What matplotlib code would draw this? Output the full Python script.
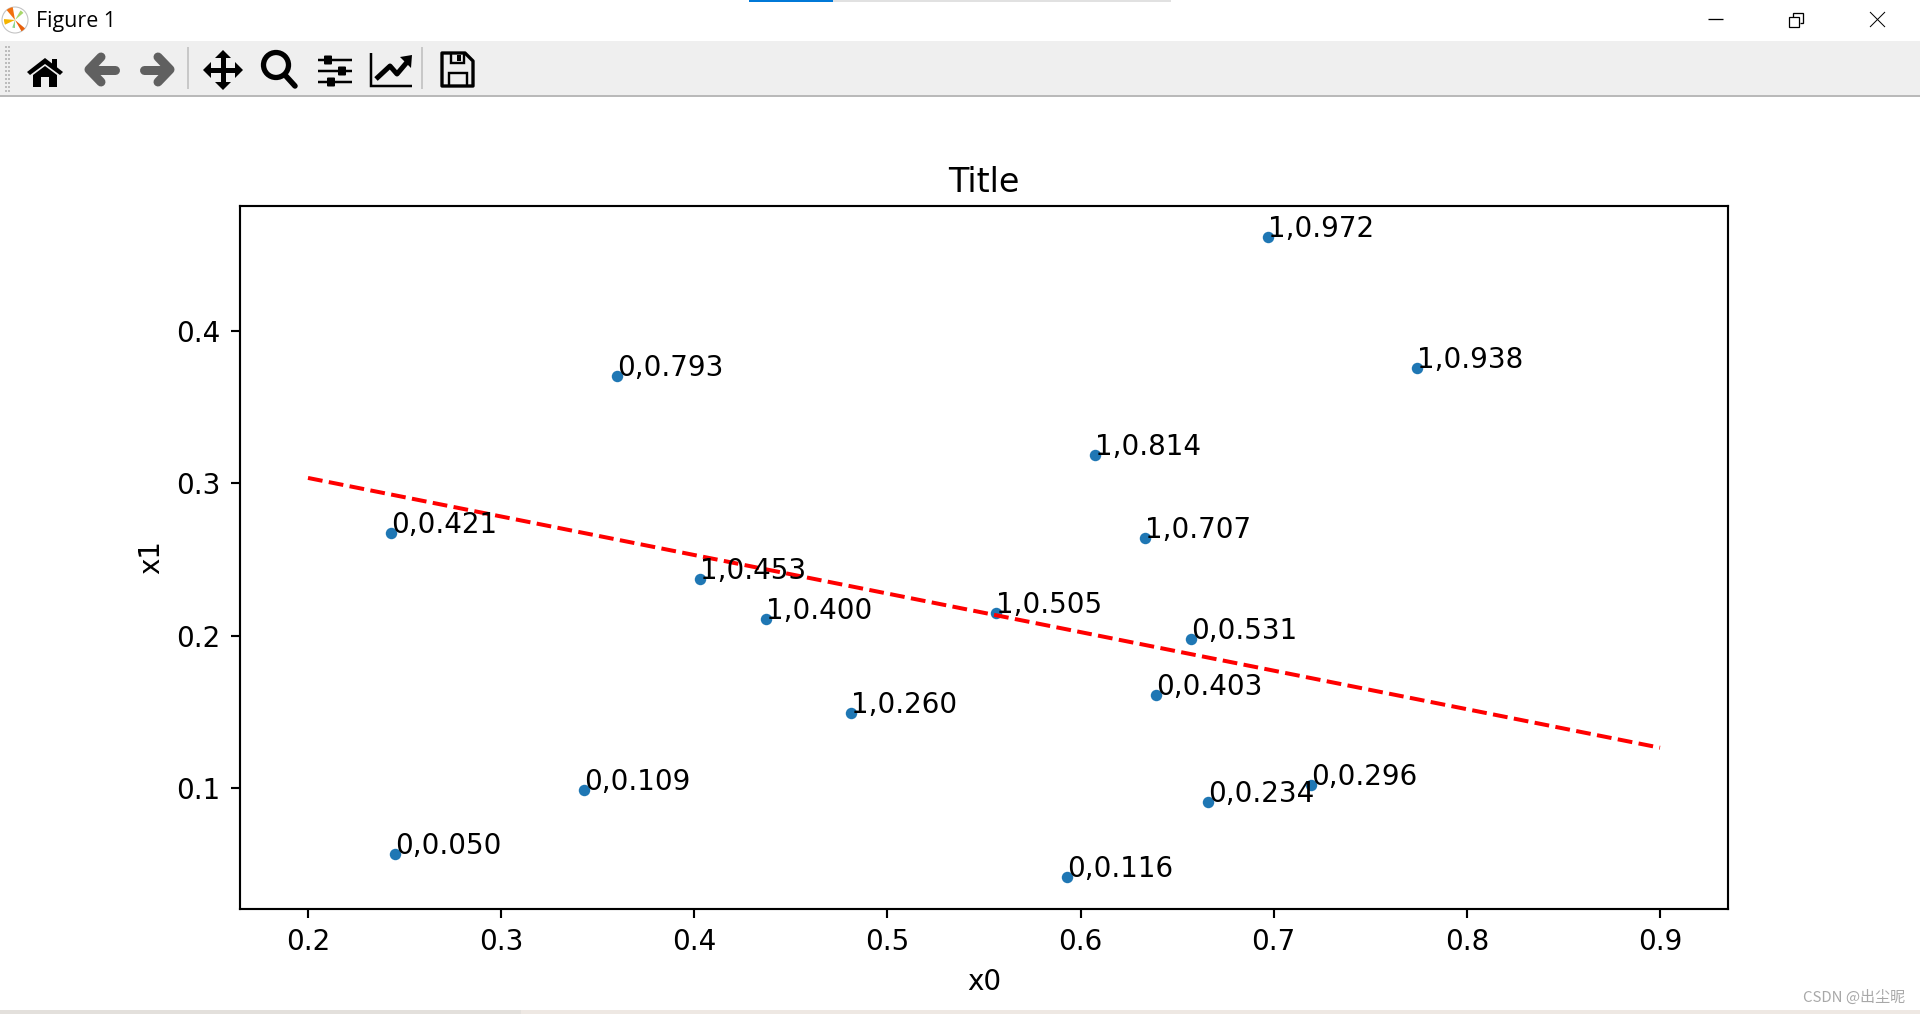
import matplotlib
matplotlib.use("Agg")
import matplotlib.pyplot as plt
from matplotlib.patches import Rectangle, Circle, Polygon, Wedge, FancyBboxPatch
from matplotlib.lines import Line2D

# ---------- data ----------
x0 = [0.6968, 0.7742, 0.3599, 0.6076, 0.6336, 0.2430, 0.4028, 0.4370, 0.5562,
      0.6571, 0.6391, 0.4810, 0.7193, 0.6660, 0.3429, 0.2449, 0.5931]
x1 = [0.4613, 0.3755, 0.3705, 0.3185, 0.2640, 0.2674, 0.2372, 0.2110, 0.2147,
      0.1978, 0.1612, 0.1492, 0.1022, 0.0909, 0.0985, 0.0567, 0.0415]
labels = ["1,0.972", "1,0.938", "0,0.793", "1,0.814", "1,0.707", "0,0.421",
          "1,0.453", "1,0.400", "1,0.505", "0,0.531", "0,0.403", "1,0.260",
          "0,0.296", "0,0.234", "0,0.109", "0,0.050", "0,0.116"]
line_x = [0.2, 0.9]
line_y = [0.3035, 0.1265]
x_ticks = [0.2, 0.3, 0.4, 0.5, 0.6, 0.7, 0.8, 0.9]
y_ticks = [0.1, 0.2, 0.3, 0.4]

S = 1.92
F = 2.0
W, H = 1920, 1014
fig = plt.figure(figsize=(W / 100, H / 100), dpi=100, facecolor="white")

# ---------- window chrome, in screen pixels ----------
ch = fig.add_axes([0, 0, 1, 1], zorder=0)
ch.set_xlim(0, W)
ch.set_ylim(H, 0)
ch.axis("off")


def rect(x, y, w, h, c, **k):
    ch.add_patch(Rectangle((x, y), w, h, fc=c, ec="none", **k))


def ln(xs, ys, c="black", lw=2.0, cap="butt", join="miter"):
    ch.add_line(Line2D(xs, ys, color=c, lw=lw * 0.72, solid_capstyle=cap, solid_joinstyle=join))


rect(749, 0, 84, 2, "#0078d7")
rect(833, 0, 338, 2, "#e1e1e1")
rect(0, 41, W, 54, "#efefef")
rect(0, 95, W, 2, "#b9b9b9")
rect(0, 1010, 521, 4, "#e3e0dc")
rect(521, 1010, 1399, 4, "#eee8e3")

# app icon
ch.add_patch(Circle((15, 20), 13, fc="white", ec="#c4c4c4", lw=0.8))
for t1, t2, c, r in [(100, 130, "#f2700f", 13), (-60, -40, "#e8600a", 13), (175, 205, "#f5b400", 11),
                     (40, 60, "#a8d86a", 11), (-110, -90, "#8fd68f", 8)]:
    ch.add_patch(Wedge((15, 20), r, -t2, -t1, fc=c, ec="none"))
ch.text(36, 22, "Figure 1", fontsize=15.4, family="Open Sans", va="center", ha="left", color="black")

# grip
for yy in range(46, 92, 4):
    rect(5, yy, 1.5, 1.5, "#bdbdbd")
    rect(8, yy, 1.5, 1.5, "#bdbdbd")
rect(187, 47, 2, 42, "#c8c8c8")
rect(421, 47, 2, 42, "#c8c8c8")

# home
ch.add_patch(Polygon([(27, 72), (45, 58), (63, 72), (60, 75), (45, 64), (30, 75)], fc="black", ec="none"))
ch.add_patch(Polygon([(33, 75), (45, 66), (57, 75), (57, 87), (49, 87), (49, 77), (41, 77), (41, 87), (33, 87)],
                     fc="black", ec="none"))
rect(52, 59, 5, 9, "black")
# back / forward
G = "#606060"
ln([115, 92], [69.5, 69.5], G, 9, "round")
ln([101, 89, 101], [57, 69.5, 82], G, 9, "round", "round")
ln([144, 167], [69.5, 69.5], G, 9, "round")
ln([158, 170, 158], [57, 69.5, 82], G, 9, "round", "round")
# move
ln([207, 239], [70, 70], "black", 5)
ln([223, 223], [54, 86], "black", 5)
for pts in ([(223, 50), (215, 58), (231, 58)], [(223, 90), (215, 82), (231, 82)],
            [(203, 70), (211, 62), (211, 78)], [(243, 70), (235, 62), (235, 78)]):
    ch.add_patch(Polygon(pts, fc="black", ec="none"))
# zoom
ch.add_patch(Circle((276, 65), 12.5, fc="none", ec="black", lw=3.8))
ln([285, 295], [75, 86], "black", 5.5, "round")
# sliders
for yy, xk in [(60, 328), (71, 342), (82, 331)]:
    ln([318, 352], [yy, yy], "black", 2.5)
    ch.add_patch(FancyBboxPatch((xk - 3, yy - 3.5), 6, 7, boxstyle="round,pad=1", fc="black", ec="none"))
# chart
ln([371, 371, 412], [53, 86, 86], "black", 2.5)
ln([376, 390, 397, 408], [79, 66, 74, 61], "black", 5, join="round")
ch.add_patch(Polygon([(400, 57), (412, 55), (411, 68)], fc="black", ec="none"))
# save
ch.add_patch(Polygon([(442, 53), (465, 53), (473, 61), (473, 86), (442, 86)], fc="none", ec="black", lw=2.4,
                     joinstyle="round"))
ln([451, 451, 464, 464], [54, 63, 63, 54], "black", 2.4)
rect(457, 55, 4, 6, "black")
ln([449, 449, 467, 467], [85, 73, 73, 85], "black", 2.4)

# window buttons
ln([1708, 1723], [19, 19], "black", 1.3)
ch.add_patch(Rectangle((1789, 17), 10, 9.5, fc="none", ec="black", lw=0.9))
ln([1792.5, 1792.5, 1803, 1803, 1799.5], [17, 13, 13, 23, 23], "black", 1.3)
ln([1870, 1885], [12, 27], "black", 1.0)
ln([1870, 1885], [27, 12], "black", 1.0)
ch.text(1905, 997.5, "CSDN @出尘昵", fontsize=10.8, color="#a8a8a8", ha="right", va="center",
        family=["Noto Sans CJK SC", "DejaVu Sans"])

# ---------- chart ----------
ax = fig.add_axes([240 / W, 1 - 909 / H, 1488 / W, 703 / H], zorder=1)
ax.set_facecolor("none")
ax.scatter(x0, x1, s=68, color="#1f77b4", linewidths=0)
ax.plot(line_x, line_y, color="red", linestyle="--", lw=1.5 * S)
for xv, yv, t in zip(x0, x1, labels):
    ax.annotate(t, (xv, yv), fontsize=10 * F)
ax.set_xlim(0.1648, 0.9352)
ax.set_ylim(0.0207, 0.4819)
ax.set_xticks(x_ticks)
ax.set_yticks(y_ticks)
ax.tick_params(axis="x", labelsize=10 * F, length=3.5 * S, width=0.8 * S, pad=3.5 * S)
ax.tick_params(axis="y", labelsize=10 * F, length=3.5 * S, width=0.8 * S, pad=4.0 * S)
for s in ax.spines.values():
    s.set_linewidth(0.8 * S)
ax.set_xlabel("x0", fontsize=10 * F, labelpad=4.6 * S)
ax.set_ylabel("x1", fontsize=10 * F, labelpad=4 * S)
ax.set_title("Title", fontsize=12 * F, pad=5.4 * S)

fig.savefig("out.png", dpi=100)
